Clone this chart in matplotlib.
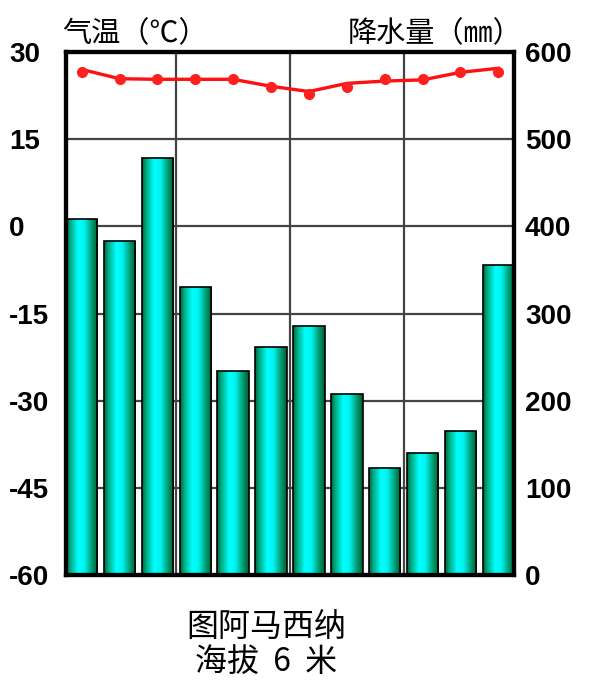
import matplotlib.pyplot as plt
import numpy as np
from matplotlib.colors import LinearSegmentedColormap
from matplotlib.transforms import ScaledTranslation

months = np.arange(1, 13)
precip = [408, 383, 478, 330, 234, 261, 286, 208, 123, 140, 165, 356]
temp_points = [26.6, 25.3, 25.3, 25.3, 25.3, 24.0, 22.7, 23.9, 25.4, 25.3, 26.6, 26.6]
temp_curve = [27.0, 25.4, 25.3, 25.3, 25.3, 24.1, 23.2, 24.6, 25.0, 25.2, 26.5, 27.2]

temp_ticks = [30, 15, 0, -15, -30, -45, -60]
precip_ticks = [600, 500, 400, 300, 200, 100, 0]
month_ticks = [1, 4, 7, 10]
month_labels = ["1", "4", "7", "10月"]
grid_x = [3.5, 6.5, 9.5]

BAR_W = 0.83
NUM_FONT = ["Liberation Sans", "Noto Sans CJK SC"]
CJK_FONT = ["Noto Sans CJK SC", "DejaVu Sans"]

fig = plt.figure(figsize=(6.12, 6.84), dpi=100)
ax = fig.add_axes([66 / 612, 1 - 575 / 684, 448 / 612, 523 / 684])
ax2 = ax.twinx()

# precipitation axis sits underneath: background, grid, bars
ax2.set_zorder(1)
ax.set_zorder(2)
ax.patch.set_visible(False)
ax2.patch.set_facecolor("#FDEDE5")

for v in precip_ticks[1:-1]:
    ax2.axhline(v, color="#444444", lw=1.6, zorder=0.5)
for v in grid_x:
    ax2.axvline(v, color="#444444", lw=1.6, zorder=0.5)

cmap = LinearSegmentedColormap.from_list(
    "bar", [(0, "#00603c"), (0.12, "#00a87a"), (0.38, "#00ffff"),
            (0.58, "#00f4f0"), (0.85, "#009060"), (1, "#005a38")])
grad = np.linspace(0, 1, 128).reshape(1, -1)
bars = ax2.bar(months, precip, width=BAR_W, facecolor="none",
               edgecolor="black", linewidth=1.2, zorder=2)
for b in bars:
    x0, y0 = b.get_x(), b.get_y()
    im = ax2.imshow(grad, cmap=cmap, aspect="auto", zorder=1.5,
                    extent=[x0, x0 + b.get_width(), y0, y0 + b.get_height()])
    im.set_clip_path(b)
ax2.set_xlim(1 - BAR_W / 2, 12 + BAR_W / 2)
ax2.set_ylim(0, 600)

# temperature on top
ax.set_ylim(-60, 30)
ax.plot(months, temp_curve, color="#ff1010", lw=2.4, zorder=3)
ax.plot(months, temp_points, "o", color="#ff2020", ms=7, zorder=4)

for a in (ax, ax2):
    for s in a.spines.values():
        s.set_linewidth(3)
        s.set_color("black")
    a.tick_params(length=0)

ax.set_yticks(temp_ticks)
ax.set_yticklabels([str(t) for t in temp_ticks], fontsize=20,
                   fontweight="bold", family=NUM_FONT)
ax.tick_params(axis="y", pad=41)
for lbl in ax.get_yticklabels():
    lbl.set_horizontalalignment("left")

ax2.set_yticks(precip_ticks)
ax2.set_yticklabels([str(p) for p in precip_ticks], fontsize=20,
                    fontweight="bold", family=NUM_FONT)
ax2.tick_params(axis="y", pad=8)

ax.set_xticks(month_ticks)
ax.set_xticklabels(month_labels, fontsize=20, fontweight="bold", family=NUM_FONT)
ax.tick_params(axis="x", pad=-3)
for lbl in ax.get_xticklabels():
    shift = 24 if lbl.get_text() == "10月" else 9
    lbl.set_transform(lbl.get_transform() + ScaledTranslation(shift / 100, 0, fig.dpi_scale_trans))
ax2.set_xticks([])

fig.text(62 / 612, 1 - 34 / 684, "气温（℃）", fontsize=21, family=CJK_FONT,
         ha="left", va="center")
fig.text(522 / 612, 1 - 34 / 684, "降水量（㎜）", fontsize=21, family=CJK_FONT,
         ha="right", va="center")
fig.text(266 / 612, 1 - 627 / 684, "图阿马西纳", fontsize=23, family=CJK_FONT,
         ha="center", va="center")
fig.text(266 / 612, 1 - 662 / 684, "海拔  6  米", fontsize=23, family=CJK_FONT,
         ha="center", va="center")

fig.savefig("out.png", dpi=100, facecolor="white")
